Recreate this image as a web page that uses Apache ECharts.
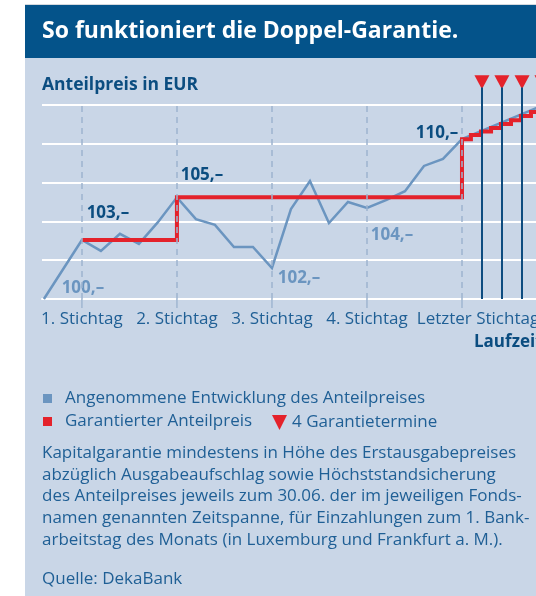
<!DOCTYPE html>
<html>
<head>
<meta charset="utf-8">
<script src="https://cdn.jsdelivr.net/npm/echarts@6/dist/echarts.min.js"></script>
<style>
  html, body { margin: 0; padding: 0; background: #fff; overflow: hidden; }
  #main { width: 557px; height: 596px; }
</style>
</head>
<body>
<div id="main"></div>
<script>
// x = time steps (5 steps between two Stichtage), y = grid levels of the sketch
var stichtagLabels = ['1. Stichtag', '2. Stichtag', '3. Stichtag', '4. Stichtag', 'Letzter Stichtag'];
var stichtagX = [2, 7, 12, 17, 22];

// Angenommene Entwicklung des Anteilpreises
var preisX = [0, 2, 3, 4, 5, 6, 7, 8, 9, 10, 11, 12, 13, 14, 15, 16, 17, 18, 19, 20, 21, 22, 26];
var preisY = [0, 1.52, 1.24, 1.68, 1.42, 1.98, 2.62, 2.06, 1.91, 1.34, 1.34, 0.8, 2.32, 3.04, 1.96, 2.5, 2.35, 2.55, 2.78, 3.43, 3.61, 4.12, 4.94];

// Garantierter Anteilpreis (Stufen)
var garantieX = [2, 7, 22, 22.47, 23, 23.53, 24.05, 24.58, 25.1, 25.63, 26.16, 27];
var garantieY = [1.52, 2.62, 4.12, 4.23, 4.32, 4.41, 4.51, 4.61, 4.72, 4.82, 4.92, 5.02];

// 4 Garantietermine
var termineX = [23.05, 24.1, 25.16, 26.21];

// Beschriftete Preise
var preisMarkX = [0, 12, 17];
var preisMarkWert = [100, 102, 104];
var garantieMarkX = [2, 7, 22];
var garantieMarkWert = [103, 105, 110];

var FONT = 'Open Sans';
var DARK = '#0b4d80';
var TEXT = '#1f5f95';
var BLUE = '#6b95c0';
var RED = '#e4222b';

var chart = echarts.init(document.getElementById('main'), null, { renderer: 'canvas' });

var preisOffsets = { 0: [39, -11], 12: [27, 10], 17: [25, 27] };
var garantieOffsets = { 2: [26, -27], 7: [25, -22], 22: [-25, -6] };

var preisData = preisX.map(function (x, i) {
  var item = { value: [x, preisY[i]] };
  var m = preisMarkX.indexOf(x);
  if (m >= 0) {
    item.label = {
      show: true, position: 'inside', offset: preisOffsets[x],
      formatter: preisMarkWert[m] + ',–',
      color: BLUE, fontWeight: 'bold', fontSize: 17, fontFamily: FONT
    };
  }
  return item;
});

var garantieData = garantieX.map(function (x, i) {
  var item = { value: [x, garantieY[i]] };
  var m = garantieMarkX.indexOf(x);
  if (m >= 0) {
    item.label = {
      show: true, position: 'inside', offset: garantieOffsets[x],
      formatter: garantieMarkWert[m] + ',–',
      color: DARK, fontWeight: 'bold', fontSize: 17, fontFamily: FONT
    };
  }
  return item;
});

var option = {
  backgroundColor: '#fff',
  animation: false,
  textStyle: { fontFamily: FONT },
  graphic: [
    { type: 'rect', z: -10, silent: true, shape: { x: 25, y: 4, width: 540, height: 1 }, style: { fill: '#d5d9de' } },
    { type: 'rect', z: -10, silent: true, shape: { x: 25, y: 5, width: 540, height: 53 }, style: { fill: '#04538a' } },
    { type: 'rect', z: -10, silent: true, shape: { x: 25, y: 58, width: 540, height: 538 }, style: { fill: '#c9d6e7' } },
    { type: 'text', x: 42, y: 31, style: { text: 'So funktioniert die Doppel-Garantie.', fill: '#fff', font: 'bold 23px "Open Sans"', verticalAlign: 'middle' } },
    { type: 'text', x: 42, y: 85, style: { text: 'Anteilpreis in EUR', fill: DARK, font: 'bold 17.5px "Open Sans"', verticalAlign: 'middle' } },
    { type: 'text', x: 474, y: 342, style: { text: 'Laufzeit', fill: DARK, font: 'bold 17px "Open Sans"', verticalAlign: 'middle' } }
  ],
  title: [
    {
      text: 'Kapitalgarantie mindestens in Höhe des Erstausgabepreises\nabzüglich Ausgabeaufschlag sowie Höchststandsicherung\ndes Anteilpreises jeweils zum 30.06. der im jeweiligen Fonds-\nnamen genannten Zeitspanne, für Einzahlungen zum 1. Bank-\narbeitstag des Monats (in Luxemburg und Frankfurt a. M.).',
      left: 42, top: 442, padding: 0,
      textStyle: { fontFamily: FONT, fontSize: 17, fontWeight: 'normal', color: TEXT, lineHeight: 21.8 }
    },
    {
      text: 'Quelle: DekaBank',
      left: 42, top: 571, padding: 0,
      textStyle: { fontFamily: FONT, fontSize: 17, fontWeight: 'normal', color: TEXT }
    }
  ],
  legend: [
    {
      data: ['Angenommene Entwicklung des Anteilpreises'],
      left: 43, top: 390, padding: 0, selectedMode: false,
      icon: 'rect', itemWidth: 9, itemHeight: 9,
      itemStyle: { opacity: 1 },
      textStyle: { fontFamily: FONT, fontSize: 17, color: TEXT, padding: [0, 0, 0, 8] }
    },
    {
      data: ['Garantierter Anteilpreis'],
      left: 43, top: 413, padding: 0, selectedMode: false,
      icon: 'rect', itemWidth: 9, itemHeight: 9,
      itemStyle: { opacity: 1 },
      textStyle: { fontFamily: FONT, fontSize: 17, color: TEXT, padding: [0, 0, 0, 8] }
    },
    {
      data: ['4 Garantietermine'],
      left: 272, top: 414, padding: 0, selectedMode: false,
      icon: 'path://M0,0 L10,0 L5,10 Z', itemWidth: 15, itemHeight: 16,
      itemStyle: { opacity: 1 },
      textStyle: { fontFamily: FONT, fontSize: 17, color: TEXT, padding: [0, 0, 0, 0] }
    }
  ],
  grid: { left: 42, right: 0, top: 74, bottom: 297, containLabel: false },
  xAxis: {
    type: 'value', min: -0.1, max: 27,
    axisLine: { show: true, lineStyle: { color: '#fff', width: 2 } },
    axisTick: { show: false },
    axisLabel: {
      show: true, customValues: stichtagX, margin: 12,
      fontFamily: FONT, fontSize: 17, color: TEXT,
      formatter: function (v) {
        var i = stichtagX.indexOf(v);
        if (i === stichtagLabels.length - 1) return '{l|' + stichtagLabels[i] + '}';
        return i >= 0 ? stichtagLabels[i] : '';
      },
      rich: { l: { fontFamily: FONT, fontSize: 17, color: TEXT, padding: [0, 0, 0, 32] } }
    },
    splitLine: { show: false }
  },
  yAxis: {
    type: 'value', min: 0, max: 5.8, interval: 1,
    axisLine: { show: false }, axisTick: { show: false }, axisLabel: { show: false },
    splitLine: { show: true, showMaxLine: false, lineStyle: { color: '#fff', width: 2 } }
  },
  series: [
    {
      name: 'stichtage', type: 'line', data: [], z: 1, silent: true,
      markLine: {
        silent: true, symbol: ['none', 'none'], label: { show: false },
        lineStyle: { color: '#9db4cf', width: 1.5, type: [6, 5] },
        data: stichtagX.map(function (x) { return [{ coord: [x, 0] }, { coord: [x, 5] }]; })
      }
    },
    {
      // Teilstriche unter der Achse an den Stichtagen
      name: 'ticks', type: 'custom', z: 1, silent: true, clip: false,
      data: stichtagX.map(function (x) { return [x, 0]; }),
      renderItem: function (params, api) {
        var p = api.coord([api.value(0), 0]);
        return {
          type: 'line',
          shape: { x1: p[0], y1: p[1], x2: p[0], y2: p[1] + 9 },
          style: { stroke: '#9fb6d1', lineWidth: 1.5 }
        };
      }
    },
    {
      name: '4 Garantietermine', type: 'scatter', z: 2, clip: false, silent: true,
      symbol: 'path://M0,0 L10,0 L5,10 Z', symbolSize: [15, 14],
      itemStyle: { color: RED, opacity: 1 },
      data: termineX.map(function (x) { return [x, 5.59]; }),
      markLine: {
        silent: true, symbol: ['none', 'none'], label: { show: false },
        lineStyle: { color: '#0d4c80', width: 2, type: 'solid' },
        data: termineX.map(function (x) { return [{ coord: [x, 0] }, { coord: [x, 5.45] }]; })
      }
    },
    {
      name: 'Angenommene Entwicklung des Anteilpreises', type: 'line', z: 3,
      showSymbol: true, symbol: 'circle', symbolSize: 0.1, silent: true,
      lineStyle: { color: BLUE, width: 2.5, join: 'miter' },
      itemStyle: { color: BLUE },
      data: preisData
    },
    {
      name: 'Garantierter Anteilpreis', type: 'line', z: 4, step: 'end',
      showSymbol: true, symbol: 'circle', symbolSize: 0.1, silent: true,
      lineStyle: { color: RED, width: 4, join: 'miter' },
      itemStyle: { color: RED },
      data: garantieData
    }
  ]
};

chart.setOption(option);
</script>
</body>
</html>
